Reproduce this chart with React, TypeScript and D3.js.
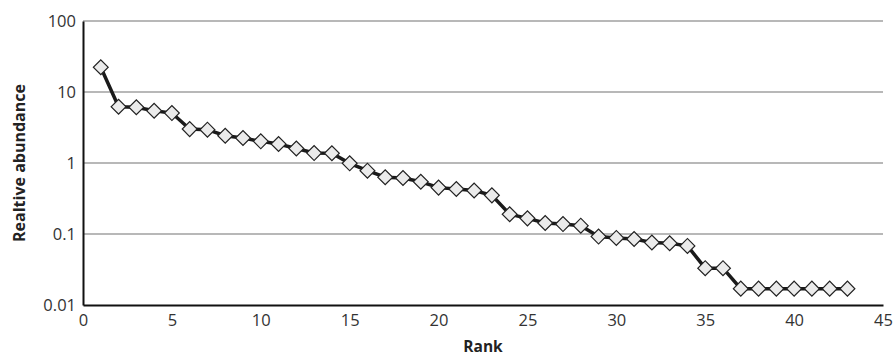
import * as d3 from "d3";
import React, { useEffect, useRef } from "react";

const ranks = [
  1, 2, 3, 4, 5, 6, 7, 8, 9, 10, 11, 12, 13, 14, 15, 16, 17, 18, 19, 20, 21,
  22, 23, 24, 25, 26, 27, 28, 29, 30, 31, 32, 33, 34, 35, 36, 37, 38, 39, 40,
  41, 42, 43,
];
const abundance = [
  22.3, 6.2, 6.1, 5.45, 5.05, 3.0, 2.95, 2.42, 2.25, 2.02, 1.85, 1.6, 1.38,
  1.37, 0.99, 0.78, 0.63, 0.615, 0.545, 0.45, 0.43, 0.41, 0.35, 0.19, 0.166,
  0.143, 0.138, 0.131, 0.092, 0.088, 0.085, 0.076, 0.074, 0.068, 0.033, 0.033,
  0.017, 0.017, 0.017, 0.017, 0.017, 0.017, 0.017,
];
const xTicks = [0, 5, 10, 15, 20, 25, 30, 35, 40, 45];
const yTicks = [0.01, 0.1, 1, 10, 100];

export default function App() {
  const ref = useRef<SVGSVGElement>(null);

  useEffect(() => {
    const W = 893;
    const H = 358;
    const margin = { top: 21, left: 83, right: 10, bottom: 53 };
    const width = W - margin.left - margin.right;
    const height = H - margin.top - margin.bottom;
    const font = "'Open Sans', 'Noto Sans', sans-serif";

    const svg = d3.select(ref.current);
    svg.selectAll("*").remove();

    const x = d3.scaleLinear().domain([0, 45]).range([0, width]);
    const y = d3.scaleLog().domain([0.01, 100]).range([height, 0]);

    const main = svg
      .append("g")
      .attr("transform", `translate(${margin.left}, ${margin.top})`);

    // grid lines
    main
      .selectAll("line.grid")
      .data(yTicks.slice(1))
      .enter()
      .append("line")
      .attr("class", "grid")
      .attr("x1", 0)
      .attr("x2", width)
      .attr("y1", (d) => y(d))
      .attr("y2", (d) => y(d))
      .attr("stroke", "#a0a0a0")
      .attr("stroke-width", 1.3);

    // axes
    const xAxis = d3
      .axisBottom(x)
      .tickValues(xTicks)
      .tickSize(0)
      .tickPadding(9)
      .tickFormat(d3.format("d"));
    const yAxis = d3
      .axisLeft(y)
      .tickValues(yTicks)
      .tickSize(0)
      .tickPadding(7)
      .tickFormat((d) => String(d));

    const gx = main
      .append("g")
      .attr("transform", `translate(0, ${height})`)
      .call(xAxis);
    const gy = main.append("g").call(yAxis);

    [gx, gy].forEach((g) => {
      g.select(".domain").attr("stroke", "#111").attr("stroke-width", 2);
      g.selectAll("text")
        .attr("font-family", font)
        .attr("font-size", 16.5)
        .attr("fill", "#333");
    });

    // line
    const pts = ranks.map((r, i) => [r, abundance[i]] as [number, number]);
    const line = d3
      .line<[number, number]>()
      .x((d) => x(d[0]))
      .y((d) => y(d[1]));
    main
      .append("path")
      .datum(pts)
      .attr("d", line)
      .attr("fill", "none")
      .attr("stroke", "#1a1a1a")
      .attr("stroke-width", 3.5);

    // diamond markers
    const diamond = d3.symbol().type(d3.symbolSquare).size(110);
    main
      .selectAll("path.pt")
      .data(pts)
      .enter()
      .append("path")
      .attr("class", "pt")
      .attr("d", diamond)
      .attr(
        "transform",
        (d) => `translate(${x(d[0])}, ${y(d[1])}) rotate(45)`
      )
      .attr("fill", "#ebebeb")
      .attr("stroke", "#222")
      .attr("stroke-width", 1.2);

    // axis titles
    svg
      .append("text")
      .text("Rank")
      .attr("x", margin.left + width / 2)
      .attr("y", 352)
      .attr("text-anchor", "middle")
      .attr("font-family", font)
      .attr("font-weight", 700)
      .attr("font-size", 15.5)
      .attr("fill", "#222");
    svg
      .append("text")
      .text("Realtive abundance")
      .attr("text-anchor", "middle")
      .attr("transform", `translate(25, ${margin.top + height / 2}) rotate(-90)`)
      .attr("font-family", font)
      .attr("font-weight", 700)
      .attr("font-size", 16)
      .attr("fill", "#222");
  }, []);

  return (
    <svg
      ref={ref}
      width={893}
      height={358}
      style={{ position: "absolute", left: 0, top: 0, background: "#fff" }}
    />
  );
}
